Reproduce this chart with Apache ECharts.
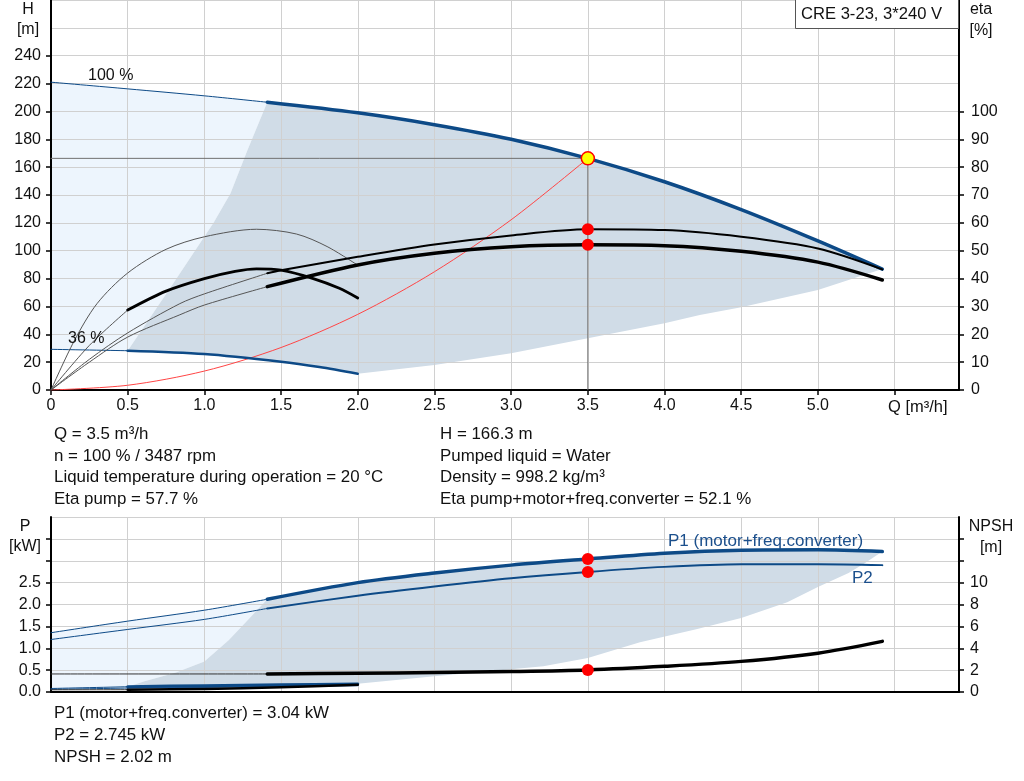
<!DOCTYPE html>
<html><head><meta charset="utf-8">
<script src="https://cdn.jsdelivr.net/npm/echarts@6/dist/echarts.min.js"></script>
<style>html,body{margin:0;padding:0;background:#fff}#c{width:1024px;height:781px}</style>
</head><body><div id="c"></div>
<script>
// ---------- tick values ----------
const qTicks = [0, 0.5, 1, 1.5, 2, 2.5, 3, 3.5, 4, 4.5, 5, 5.5];
const hTicks = [0, 20, 40, 60, 80, 100, 120, 140, 160, 180, 200, 220, 240];
const etaTicks = [0, 10, 20, 30, 40, 50, 60, 70, 80, 90, 100];
const pTicks = [0, 0.5, 1, 1.5, 2, 2.5, 3, 3.5];
const pLabels = [0, 0.5, 1, 1.5, 2, 2.5];
const npshTicks = [0, 2, 4, 6, 8, 10, 12, 14];
const npshLabels = [0, 2, 4, 6, 8, 10];

// ---------- Q-H curves ----------
const h100Ext = [[0, 221], [0.5, 216.2], [1.0, 211.2], [1.41, 206.6]];
const h100 = [[1.41, 206.6], [2.0, 199], [2.5, 190.5], [3.0, 180], [3.5, 166.3], [4.0, 149.5], [4.5, 129.5], [5.0, 107], [5.42, 86.8]];
const h36Ext = [[0, 29.2], [0.5, 28.2]];
const h36 = [[0.5, 28.2], [1.0, 25.8], [1.5, 20.3], [1.75, 16.5], [2.0, 11.7]];
const systemCurve = [[0, 0], [0.5, 3.4], [1.0, 13.6], [1.5, 30.5], [2.0, 54.3], [2.5, 84.9], [3.0, 122.2], [3.5, 166.3]];
const dutyH = [[0, 166.3], [3.5, 166.3]];
const dutyV = [[3.5, 166.3], [3.5, 0]];
const dutyPoint = [[3.5, 166.3]];

// ---------- areas (Q-H) ----------
const hLightArea = [[0, 221], [0.5, 216.2], [1.0, 211.2], [1.41, 206.6], [1.28, 172], [1.17, 141], [1.06, 120], [0.8, 77], [0.5, 28.2], [0, 29.2]];
const hGrayArea = [[1.41, 206.6], [2.0, 199], [2.5, 190.5], [3.0, 180], [3.5, 166.3], [4.0, 149.5], [4.5, 129.5], [5.0, 107], [5.42, 86.8],
  [5.0, 71.8], [4.5, 59.4], [4.23, 53.9], [4.0, 47.9], [3.5, 37.1], [3.0, 26.3], [2.5, 18], [2.0, 11.7],
  [1.75, 16.5], [1.5, 20.3], [1.0, 25.8], [0.5, 28.2], [0.8, 77], [1.06, 120], [1.17, 141], [1.28, 172]];

// ---------- efficiency curves (eta %) ----------
const etaPumpExt = [[0, 0], [0.25, 11], [0.5, 20.5], [0.84, 31], [1.0, 34.5], [1.41, 41.9]];
const etaPump = [[1.41, 41.9], [1.5, 43], [2.0, 47.8], [2.5, 52.2], [3.0, 55.5], [3.5, 57.7], [4.0, 57.4], [4.5, 55], [5.0, 50.8], [5.42, 43.3]];
const etaTotExt = [[0, 0], [0.25, 10], [0.5, 19], [0.84, 27], [1.0, 30.5], [1.41, 37.1]];
const etaTot = [[1.41, 37.1], [2.0, 44.9], [2.5, 49.1], [3.0, 51.4], [3.5, 52.1], [4.0, 51.8], [4.5, 49.8], [5.0, 45.9], [5.42, 39.5]];
const eta36Pump = [[0, 0], [0.15, 17.5], [0.3, 31], [0.5, 42], [0.75, 50.5], [1.0, 55], [1.34, 57.7], [1.6, 56], [1.8, 51.5], [2.0, 44.8]];
const eta36TotExt = [[0, 0], [0.25, 16], [0.5, 28.7]];
const eta36Tot = [[0.5, 28.7], [0.75, 35.5], [1.0, 40], [1.2, 42.6], [1.34, 43.5], [1.5, 43], [1.71, 40], [1.88, 36.5], [2.0, 33]];
const etaPoints = [[3.5, 57.7], [3.5, 52.1]];

// ---------- power curves (kW) ----------
const p1Ext = [[0, 1.355], [0.5, 1.62], [1.0, 1.87], [1.41, 2.12]];
const p1 = [[1.41, 2.12], [2.0, 2.5], [2.5, 2.72], [3.0, 2.9], [3.5, 3.04], [4.0, 3.17], [4.5, 3.24], [5.0, 3.25], [5.42, 3.21]];
const p2Ext = [[0, 1.2], [0.5, 1.43], [1.0, 1.66], [1.41, 1.91]];
const p2 = [[1.41, 1.91], [2.0, 2.2], [2.5, 2.41], [3.0, 2.6], [3.5, 2.745], [4.0, 2.86], [4.5, 2.92], [5.0, 2.92], [5.42, 2.9]];
const p1MinExt = [[0, 0.08], [0.5, 0.12]];
const p1Min = [[0.5, 0.12], [1.0, 0.145], [1.5, 0.165], [2.0, 0.185]];
const p2MinExt = [[0, 0.06], [0.5, 0.09]];
const p2Min = [[0.5, 0.09], [1.0, 0.11], [1.5, 0.13], [2.0, 0.15]];
const pPoints = [[3.5, 3.04], [3.5, 2.745]];

// ---------- NPSH curves (m) ----------
const npshExt = [[0, 1.65], [1.41, 1.65]];
const npsh = [[1.41, 1.65], [2.0, 1.71], [2.5, 1.78], [3.0, 1.87], [3.5, 2.02], [4.0, 2.35], [4.5, 2.8], [5.0, 3.55], [5.42, 4.63]];
const npshMinExt = [[0, 0.2], [0.5, 0.21]];
const npshMin = [[0.5, 0.21], [1.0, 0.28], [1.5, 0.43], [2.0, 0.67]];
const npshPoints = [[3.5, 2.02]];

// ---------- areas (power) ----------
const pLightArea = [[0, 1.355], [0.5, 1.62], [1.0, 1.87], [1.41, 2.12], [1.285, 1.65], [1.16, 1.19], [1.0, 0.70], [0.81, 0.44], [0.61, 0.245], [0.5, 0.12], [0, 0.08]];
const pGrayArea = [[1.41, 2.12], [2.0, 2.5], [2.5, 2.72], [3.0, 2.9], [3.5, 3.04], [4.0, 3.17], [4.5, 3.24], [5.0, 3.25], [5.42, 3.21],
  [5.3, 2.93], [5.2, 2.72], [5.0, 2.4], [4.8, 2.05], [4.5, 1.69], [4.2, 1.43], [3.84, 1.14], [3.5, 0.78], [3.21, 0.59], [3.0, 0.52], [2.5, 0.36], [2.0, 0.19],
  [1.5, 0.165], [1.0, 0.145], [0.5, 0.12], [0.61, 0.245], [0.81, 0.44], [1.0, 0.70], [1.16, 1.19], [1.285, 1.65]];

// ---------- texts ----------
const infoLeft = ['Q = 3.5 m³/h', 'n = 100 % / 3487 rpm', 'Liquid temperature during operation = 20 °C', 'Eta pump = 57.7 %'];
const infoRight = ['H = 166.3 m', 'Pumped liquid = Water', 'Density = 998.2 kg/m³', 'Eta pump+motor+freq.converter = 52.1 %'];
const infoBottom = ['P1 (motor+freq.converter) = 3.04 kW', 'P2 = 2.745 kW', 'NPSH = 2.02 m'];

const FONT = '"Liberation Sans", Arial, sans-serif';
const BLUE = '#0d4a87';
const GRID = '#d0d0d0';

function line(data, xi, yi, color, width, smooth) {
  return { type: 'line', xAxisIndex: xi, yAxisIndex: yi, data: data, showSymbol: false, symbol: 'none',
    smooth: smooth === undefined ? 0.3 : smooth,
    lineStyle: { color: color, width: width, cap: 'round', join: 'round' }, z: 3, silent: true };
}
function area(pts, xi, yi, color) {
  return { type: 'custom', xAxisIndex: xi, yAxisIndex: yi, z: 1, silent: true, data: [0],
    renderItem: function (params, api) {
      return { type: 'polygon', shape: { points: pts.map(function (p) { return api.coord(p); }) }, style: { fill: color } };
    } };
}
function dots(data, xi, yi, color, size, border) {
  return { type: 'scatter', xAxisIndex: xi, yAxisIndex: yi, data: data, symbolSize: size, z: 5, silent: true,
    itemStyle: { color: color, borderColor: border || color, borderWidth: border ? 1.5 : 0, opacity: 1 } };
}
const axLine = { show: true, onZero: false, lineStyle: { color: '#000', width: 2 } };
const lbl = { fontSize: 16, color: '#111', fontFamily: FONT };

function txt(x, y, s, opts) {
  return Object.assign({ type: 'text', x: x, y: y, z: 100,
    style: Object.assign({ text: s, fontSize: 16, fontFamily: FONT, fill: '#111', textAlign: 'left', textVerticalAlign: 'middle' }, opts || {}) });
}

const graphics = [
  txt(28, 10, 'H', { textAlign: 'center' }), txt(28, 30, '[m]', { textAlign: 'center' }),
  txt(981, 10, 'eta', { textAlign: 'center' }), txt(981, 31, '[%]', { textAlign: 'center' }),
  txt(25, 527, 'P', { textAlign: 'center' }), txt(25, 547, '[kW]', { textAlign: 'center' }),
  txt(991, 527, 'NPSH', { textAlign: 'center' }), txt(991, 548, '[m]', { textAlign: 'center' }),
  { type: 'rect', z: 99, shape: { x: 795.5, y: -1, width: 163, height: 29.5 }, style: { fill: '#fff', stroke: '#555', lineWidth: 1 } },
  txt(801, 14, 'CRE 3-23, 3*240 V', { fontSize: 16.6 }),
  txt(888, 407, 'Q [m³/h]', { fontSize: 16.5 }),
  txt(88, 76, '100 %'), txt(68, 339, '36 %'),
  txt(668, 541, 'P1 (motor+freq.converter)', { fill: '#1b4f8c', fontSize: 17 }),
  txt(852, 578, 'P2', { fill: '#1b4f8c', fontSize: 17 })
];
const rowsTop = [434, 456, 477, 499];
infoLeft.forEach(function (s, i) { graphics.push(txt(54, rowsTop[i], s, { fontSize: 16.9 })); });
infoRight.forEach(function (s, i) { graphics.push(txt(440, rowsTop[i], s, { fontSize: 16.9 })); });
const rowsBot = [713, 735, 757];
infoBottom.forEach(function (s, i) { graphics.push(txt(54, rowsBot[i], s, { fontSize: 16.9 })); });

const series = [
  area(hLightArea, 0, 0, '#edf5fd'),
  area(hGrayArea, 0, 0, '#d0dce7'),
  line(dutyH, 0, 0, '#707070', 1, false),
  line(dutyV, 0, 0, '#707070', 1, false),
  line(systemCurve, 0, 0, '#ff4545', 1),
  line(h100Ext, 0, 0, BLUE, 1),
  line(h100, 0, 0, BLUE, 3.5),
  line(h36Ext, 0, 0, BLUE, 1),
  line(h36, 0, 0, BLUE, 2.5),
  line(eta36Pump, 0, 1, '#555', 1),
  line(eta36TotExt, 0, 1, '#555', 1),
  line(eta36Tot, 0, 1, '#000', 2.8),
  line(etaPumpExt, 0, 1, '#555', 1),
  line(etaPump, 0, 1, '#000', 2),
  line(etaTotExt, 0, 1, '#555', 1),
  line(etaTot, 0, 1, '#000', 3.5),
  dots(etaPoints, 0, 1, '#ff0000', 12),
  dots(dutyPoint, 0, 0, '#ffff00', 13, '#ff0000'),
  area(pLightArea, 1, 3, '#edf5fd'),
  area(pGrayArea, 1, 3, '#d0dce7'),
  line(p1Ext, 1, 3, BLUE, 1),
  line(p1, 1, 3, BLUE, 3.5),
  line(p2Ext, 1, 3, BLUE, 1),
  line(p2, 1, 3, BLUE, 2),
  line(p2MinExt, 1, 3, BLUE, 1),
  line(p2Min, 1, 3, '#2a5f9a', 1.5),
  line(p1MinExt, 1, 3, BLUE, 1),
  line(p1Min, 1, 3, BLUE, 3),
  line(npshExt, 1, 4, '#333', 1),
  line(npsh, 1, 4, '#000', 3.5),
  line(npshMinExt, 1, 4, '#333', 1),
  line(npshMin, 1, 4, '#000', 2.5),
  dots(pPoints, 1, 3, '#ff0000', 12),
  dots(npshPoints, 1, 4, '#ff0000', 12)
];

const option = {
  animation: false,
  backgroundColor: '#fff',
  textStyle: { fontFamily: FONT },
  grid: [
    { left: 51, right: 65, top: 0, height: 390, containLabel: false },
    { left: 51, right: 65, top: 517, height: 175, containLabel: false }
  ],
  xAxis: [
    { gridIndex: 0, type: 'value', min: 0, max: 5.92, interval: 0.5, z: 2,
      axisLine: axLine,
      axisTick: { show: true, length: 5, customValues: qTicks, lineStyle: { color: '#000', width: 1.5 } },
      axisLabel: Object.assign({ margin: 8, customValues: qTicks, formatter: function (v) { if (v === 0) return '0'; if (Math.abs(v - 5.5) < 1e-6) return ''; return v.toFixed(1); } }, lbl),
      splitLine: { show: true, lineStyle: { color: GRID, width: 1 } } },
    { gridIndex: 1, type: 'value', min: 0, max: 5.92, interval: 0.5, z: 2,
      axisLine: axLine, axisTick: { show: false }, axisLabel: { show: false },
      splitLine: { show: true, lineStyle: { color: GRID, width: 1 } } }
  ],
  yAxis: [
    { gridIndex: 0, type: 'value', position: 'left', min: 0, max: 280, interval: 20, z: 2,
      axisLine: axLine,
      axisTick: { show: true, length: 5, customValues: hTicks, lineStyle: { color: '#000', width: 1.5 } },
      axisLabel: Object.assign({ margin: 10, customValues: hTicks }, lbl),
      splitLine: { show: false } },
    { gridIndex: 0, type: 'value', position: 'right', min: 0, max: 140, interval: 10, z: 2,
      axisLine: axLine,
      axisTick: { show: true, length: 5, customValues: etaTicks, lineStyle: { color: '#000', width: 1.5 } },
      axisLabel: Object.assign({ margin: 12, customValues: etaTicks }, lbl),
      splitLine: { show: false } },
    { gridIndex: 0, type: 'value', position: 'left', min: 0, max: 280, interval: 20, z: 2,
      axisLine: { show: false }, axisTick: { show: false }, axisLabel: { show: false },
      splitLine: { show: true, lineStyle: { color: GRID, width: 1 } } },
    { gridIndex: 1, type: 'value', position: 'left', min: 0, max: 4, interval: 0.5, z: 2,
      axisLine: axLine,
      axisTick: { show: true, length: 5, customValues: pTicks, lineStyle: { color: '#000', width: 1.5 } },
      axisLabel: Object.assign({ margin: 10, customValues: pLabels, formatter: function (v) { return v.toFixed(1); } }, lbl),
      splitLine: { show: false } },
    { gridIndex: 1, type: 'value', position: 'right', min: 0, max: 16, interval: 2, z: 2,
      axisLine: axLine,
      axisTick: { show: true, length: 5, customValues: npshTicks, lineStyle: { color: '#000', width: 1.5 } },
      axisLabel: Object.assign({ margin: 11, customValues: npshLabels }, lbl),
      splitLine: { show: false } },
    { gridIndex: 1, type: 'value', position: 'left', min: 0, max: 4, interval: 0.5, z: 2,
      axisLine: { show: false }, axisTick: { show: false }, axisLabel: { show: false },
      splitLine: { show: true, lineStyle: { color: GRID, width: 1 } } }
  ],
  graphic: graphics,
  series: series
};

const chart = echarts.init(document.getElementById('c'), null, { renderer: 'canvas' });
chart.setOption(option);
</script>
</body></html>
